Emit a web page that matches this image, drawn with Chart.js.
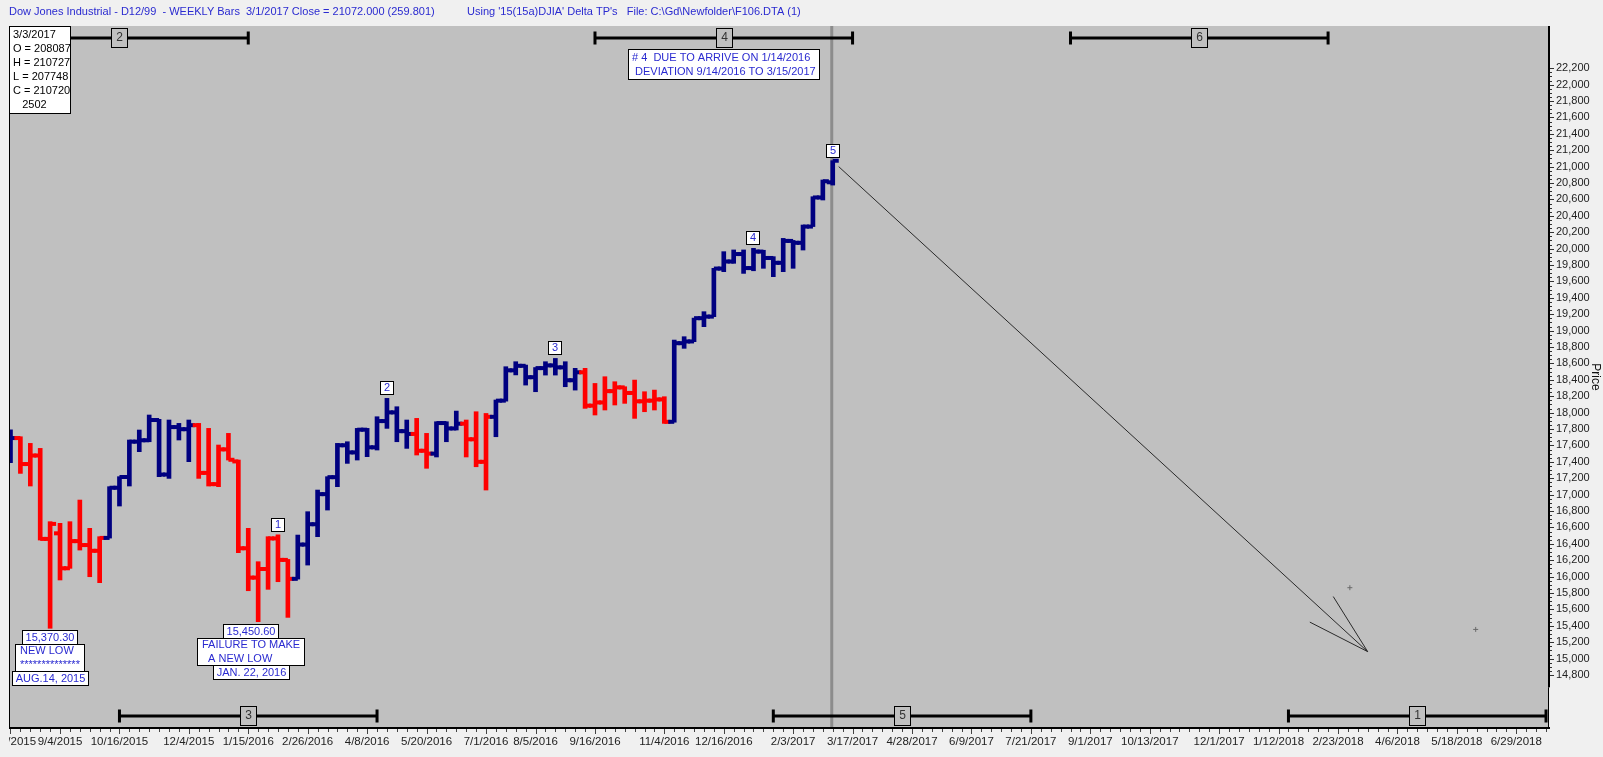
<!DOCTYPE html>
<html>
<head>
<meta charset="utf-8">
<script src="https://cdn.jsdelivr.net/npm/chart.js@4/dist/chart.umd.min.js"></script>
<style>
html,body{margin:0;padding:0;background:#f0f0f0;overflow:hidden;}
canvas{display:block;}
</style>
</head>
<body>
<canvas id="c" width="1603" height="757"></canvas>
<script>
// ---------- DATA (weekly bars, index 0 = week ending 7/31/2015) ----------
const opens = [17570,17690,17373,17477,16460,16528,16102,16433,16385,16315,
  16472,17084,17215,17646,17663,17910,17245,17824,17798,17847,
  17265,17128,17552,17405,16346,15988,16093,16466,16204,15973,
  16391,16639,17006,17213,17602,17515,17792,17577,17897,18003,
  17774,17740,17535,17500,17873,17807,17865,17675,17400,17949,
  18146,18516,18571,18432,18543,18576,18552,18395,18492,18085,
  18124,18262,18308,18240,18138,18146,18161,17888,18847,18868,
  19152,19171,19757,19843,19934,19763,19964,19886,19827,20094,
  20071,20269,20624,20809];
const highs = [17790,17706,17625,17564,16670,16650,16670,16934,16589,16487,
  17097,17219,17666,17788,17971,17918,17910,17869,17910,17869,
  17808,17605,17747,17422,16589,16182,16487,16510,16210,16507,
  16792,17056,17219,17625,17645,17808,17808,17950,18174,18072,
  17910,17930,17747,17889,17889,18019,17910,18011,17990,18154,
  18560,18621,18580,18550,18621,18661,18621,18540,18540,18356,
  18438,18377,18316,18397,18255,18275,18194,18885,18926,19153,
  19231,19760,19963,19984,19984,20004,19980,19902,20125,20100,
  20288,20633,20837,21073];
const lows = [17390,17259,17105,16446,15370,15959,16101,16324,15999,15926,
  16470,16861,17105,17524,17645,17219,17198,17666,17402,17198,
  17105,17097,17422,16292,15828,15451,15845,15938,15503,15970,
  16141,16487,16812,17097,17381,17422,17463,17544,17808,17645,
  17564,17483,17321,17459,17645,17788,17459,17340,17056,17706,
  18140,18460,18336,18255,18458,18458,18316,18275,18052,17971,
  18032,18093,18113,17930,18011,18032,17869,17883,18784,18865,
  19048,19170,19719,19821,19698,19730,19760,19658,19719,19760,
  19983,20269,20593,20775];
const closes = [17690,17373,17477,16460,16643,16102,16433,16385,16315,16472,
  17084,17215,17646,17663,17910,17245,17824,17798,17847,17265,
  17128,17552,17425,16346,15988,16093,16466,16204,15973,16391,
  16639,17006,17213,17602,17515,17792,17577,17897,18003,17774,
  17740,17535,17500,17873,17807,17865,17675,17400,17949,18146,
  18516,18571,18432,18543,18576,18552,18395,18492,18085,18124,
  18262,18308,18240,18138,18146,18161,17888,18847,18868,19152,
  19171,19757,19843,19934,19763,19964,19886,19827,20094,20071,
  20269,20624,20822,21072];
// trend colouring: D = down (red), U = up (navy)
const trend = ['U','D','D','D','D','D','D','D','D','D',
  'U','U','U','U','U','U','U','U','U','D',
  'D','D','D','D','D','D','D','D','D','U',
  'U','U','U','U','U','U','U','U','U','U',
  'U','D','D','U','U','U','D','D','D','U',
  'U','U','U','U','U','U','U','U','D','D',
  'D','D','D','D','D','D','D','U','U','U',
  'U','U','U','U','U','U','U','U','U','U',
  'U','U','U','U'];

// x-axis tick positions (week index) and labels
const xTickIdx    = [0,5,11,18,24,30,36,42,48,53,59,66,72,79,85,91,97,103,109,115,122,128,134,140,146,152];
const xTickLabels = ['7/31/2015','9/4/2015','10/16/2015','12/4/2015','1/15/2016','2/26/2016','4/8/2016','5/20/2016',
  '7/1/2016','8/5/2016','9/16/2016','11/4/2016','12/16/2016','2/3/2017','3/17/2017','4/28/2017','6/9/2017',
  '7/21/2017','9/1/2017','10/13/2017','12/1/2017','1/12/2018','2/23/2018','4/6/2018','5/18/2018','6/29/2018'];
// y-axis tick values
const yTickValues = [14800,15000,15200,15400,15600,15800,16000,16200,16400,16600,16800,17000,17200,17400,
  17600,17800,18000,18200,18400,18600,18800,19000,19200,19400,19600,19800,20000,20200,20400,20600,
  20800,21000,21200,21400,21600,21800,22000,22200];

// wave count labels on bars (bar index)
const waveNames = ['1','2','3','4','5'];
const waveBars  = [27,38,55,75,83];
// time-cycle brackets (week index from / to)
const topBracketNames = ['2','4','6'];
const topBracketFrom  = [-2,59,107];
const topBracketTo    = [24,85,133];
const botBracketNames = ['3','5','1'];
const botBracketFrom  = [11,77,129];
const botBracketTo    = [37,103,155];
// projection arrow (week index, price)
const projX = [83.6,137];
const projY = [21000,15085];
// small cross marks
const markX = [135.2,147.9];
const markY = [15865,15356];
// current bar marker
const currentBar = 83;
// low annotations
const lowNoteBars   = [4,24.3];
const lowNotePrices = [15370,15451];
const lowNoteTexts  = [
  [['15,370.30'],['NEW LOW','**************'],['AUG.14, 2015']],
  [['15,450.60'],['FAILURE TO MAKE','  A NEW LOW'],['JAN. 22, 2016']]
];
const noteFourText = ['# 4  DUE TO ARRIVE ON 1/14/2016',' DEVIATION 9/14/2016 TO 3/15/2017'];
const infoLines = ['3/3/2017','O = 208087','H = 210727','L = 207748','C = 210720','   2502'];
const headerLeft  = "Dow Jones Industrial - D12/99  - WEEKLY Bars  3/1/2017 Close = 21072.000 (259.801)";
const headerRight = "Using '15(15a)DJIA' Delta TP's   File: C:\\Gd\\Newfolder\\F106.DTA (1)";

// ---------- STYLE ----------
const FONT = '"Liberation Sans", Arial, sans-serif';
const RED = '#ff0000', NAVY = '#000080', BLUE_TXT = '#2a2ad0', PLOT_BG = '#c0c0c0';
const BAR_W = 4;

const hiLo = highs.map((h, i) => ({x: i, y: [lows[i], h]}));
const barColors = trend.map(t => t === 'D' ? RED : NAVY);
const projection = projX.map((x, i) => ({x, y: projY[i]}));
const marks = markX.map((x, i) => ({x, y: markY[i]}));

function boxText(ctx, x, y, w, h, lines, opts) {
  ctx.fillStyle = opts.fill; ctx.fillRect(x, y, w, h);
  ctx.strokeStyle = '#000'; ctx.lineWidth = 1;
  ctx.strokeRect(Math.round(x) + 0.5, Math.round(y) + 0.5, Math.round(w) - 1, Math.round(h) - 1);
  ctx.fillStyle = opts.color; ctx.font = opts.font; ctx.textBaseline = 'middle';
  ctx.textAlign = opts.align || 'center';
  lines.forEach((t, k) => {
    const ty = y + opts.pad + opts.lh * (k + 0.5);
    const tx = opts.align === 'left' ? x + opts.padX : x + w / 2;
    ctx.fillText(t, tx, ty);
  });
}

const drawPlugin = {
  id: 'drawPlugin',
  beforeDraw(chart) {
    const {ctx, chartArea: a} = chart;
    ctx.save();
    ctx.fillStyle = '#f0f0f0'; ctx.fillRect(0, 0, chart.width, chart.height);
    ctx.fillStyle = PLOT_BG; ctx.fillRect(a.left, a.top, a.right - a.left, a.bottom - a.top);
    ctx.font = '11px ' + FONT; ctx.fillStyle = BLUE_TXT; ctx.textBaseline = 'middle'; ctx.textAlign = 'left';
    ctx.fillText(headerLeft, 9, 12);
    ctx.fillText(headerRight, 467, 12);
    ctx.restore();
  },
  beforeDatasetsDraw(chart) {
    const {ctx, chartArea: a, scales: {x}} = chart;
    ctx.save();
    const px = x.getPixelForValue(currentBar) - 1;
    ctx.strokeStyle = '#8c8c8c'; ctx.lineWidth = 3;
    ctx.beginPath(); ctx.moveTo(px, a.top); ctx.lineTo(px, a.bottom); ctx.stroke();
    ctx.restore();
  },
  afterDatasetsDraw(chart) {
    const {ctx, chartArea: a, scales: {x, y}} = chart;
    ctx.save();
    ctx.beginPath(); ctx.rect(a.left, a.top, a.right - a.left, a.bottom - a.top); ctx.clip();
    // open / close ticks
    opens.forEach((o, i) => {
      const px = x.getPixelForValue(i);
      ctx.fillStyle = barColors[i];
      const yo = y.getPixelForValue(o), yc = y.getPixelForValue(closes[i]);
      ctx.fillRect(px - 6, yo - BAR_W / 2, 6, BAR_W);
      ctx.fillRect(px, yc - BAR_W / 2, 6, BAR_W);
    });
    // arrow head
    const x1 = x.getPixelForValue(projX[0]), y1 = y.getPixelForValue(projY[0]);
    const x2 = x.getPixelForValue(projX[1]), y2 = y.getPixelForValue(projY[1]);
    const ang = Math.atan2(y1 - y2, x1 - x2);
    ctx.strokeStyle = '#2a2a2a'; ctx.lineWidth = 1;
    [-0.27, 0.27].forEach(d => {
      ctx.beginPath(); ctx.moveTo(x2, y2);
      ctx.lineTo(x2 + 65 * Math.cos(ang + d), y2 + 65 * Math.sin(ang + d)); ctx.stroke();
    });
    // wave labels
    waveBars.forEach((b, k) => {
      const px = x.getPixelForValue(b), py = y.getPixelForValue(highs[b]);
      boxText(ctx, Math.round(px - 7), Math.round(py - 17), 14, 14, [waveNames[k]],
        {fill: '#fff', color: BLUE_TXT, font: '11px ' + FONT, pad: 0, lh: 14});
    });
    // brackets
    const drawBracket = (from, to, name, yy) => {
      const p1 = x.getPixelForValue(from), p2 = x.getPixelForValue(to), pm = (p1 + p2) / 2;
      ctx.fillStyle = '#000';
      ctx.fillRect(p1, yy - 1.5, p2 - p1, 3);
      ctx.fillRect(p1 - 1.5, yy - 6.5, 3, 13);
      ctx.fillRect(p2 - 1.5, yy - 6.5, 3, 13);
      boxText(ctx, Math.round(pm - 8), Math.round(yy - 10), 17, 20, [name],
        {fill: PLOT_BG, color: '#333', font: '12px ' + FONT, pad: 0, lh: 20});
    };
    topBracketNames.forEach((n, k) => drawBracket(topBracketFrom[k], topBracketTo[k], n, 38));
    botBracketNames.forEach((n, k) => drawBracket(botBracketFrom[k], botBracketTo[k], n, a.bottom - 12));
    // low notes
    ctx.font = '11px ' + FONT;
    lowNoteBars.forEach((b, k) => {
      const px = x.getPixelForValue(b);
      let top = Math.round(y.getPixelForValue(lowNotePrices[k]) + 2);
      lowNoteTexts[k].forEach(lines => {
        ctx.font = '11px ' + FONT;
        const w = Math.max(...lines.map(t => ctx.measureText(t).width)) + (lines.length > 1 ? 10 : 7);
        const h = lines.length > 1 ? 28 : 15;
        boxText(ctx, Math.round(px - w / 2), top, Math.round(w), h, lines,
          {fill: '#fff', color: BLUE_TXT, font: '11px ' + FONT, pad: 0, lh: h / lines.length,
           align: lines.length > 1 ? 'left' : 'center', padX: 5});
        top += h - 1;
      });
    });
    // # 4 note
    {
      const p1 = x.getPixelForValue(topBracketFrom[1]), p2 = x.getPixelForValue(topBracketTo[1]);
      const pm = (p1 + p2) / 2;
      ctx.font = '11px ' + FONT;
      const w = Math.max(...noteFourText.map(t => ctx.measureText(t).width)) + 8;
      boxText(ctx, Math.round(pm - w / 2), 49, Math.round(w), 31, noteFourText,
        {fill: '#fff', color: BLUE_TXT, font: '11px ' + FONT, pad: 2, lh: 14, align: 'left', padX: 4});
    }
    // info box
    boxText(ctx, a.left, a.top, 62, 88, infoLines,
      {fill: '#fff', color: '#000', font: '11px ' + FONT, pad: 2, lh: 14, align: 'left', padX: 4});
    ctx.restore();

    // frame & axes
    ctx.save();
    ctx.fillStyle = '#000';
    ctx.fillRect(a.left, a.top, 1, a.bottom - a.top);
    ctx.fillRect(a.left, a.bottom - 1, a.right - a.left + 1, 2);
    const yBreak = y.getPixelForValue(14650);
    ctx.fillRect(a.right - 1, a.top, 2, yBreak - a.top);
    ctx.fillRect(a.right - 1, yBreak, 1, a.bottom - yBreak);
    // y minor / major ticks
    for (let v = yTickValues[0]; v <= yTickValues[yTickValues.length - 1]; v += 50) {
      const py = Math.round(y.getPixelForValue(v)) + 0.5;
      const major = yTickValues.includes(v);
      ctx.fillStyle = '#333';
      ctx.fillRect(a.right + 1, py - 0.5, major ? 4 : 2, 1);
    }
    // x ticks
    ctx.fillStyle = '#444';
    for (let i = 0; i <= 155; i++) {
      const px = Math.round(x.getPixelForValue(i));
      const major = xTickIdx.includes(i);
      ctx.fillRect(px, a.bottom + 1, 1, major ? 5 : 3);
    }
    // x labels
    ctx.beginPath(); ctx.rect(a.left, a.bottom, a.right - a.left + 30, 40); ctx.clip();
    ctx.font = '11.5px ' + FONT; ctx.fillStyle = '#222'; ctx.textAlign = 'center'; ctx.textBaseline = 'middle';
    xTickIdx.forEach((t, k) => ctx.fillText(xTickLabels[k], x.getPixelForValue(t), a.bottom + 14));
    ctx.restore();
  }
};

new Chart(document.getElementById('c'), {
  type: 'bar',
  data: {
    datasets: [
      {type: 'bar', label: 'High-Low', data: hiLo, backgroundColor: barColors, borderWidth: 0,
       barThickness: BAR_W, order: 3},
      {type: 'line', label: 'Projection', data: projection, borderColor: '#2a2a2a', borderWidth: 1,
       pointRadius: 0, fill: false, order: 1},
      {type: 'scatter', label: 'Marks', data: marks, pointStyle: 'cross', pointRadius: 2.5,
       borderColor: '#6a6a6a', backgroundColor: '#6a6a6a', borderWidth: 1, order: 2}
    ]
  },
  options: {
    responsive: false, animation: false, devicePixelRatio: 1,
    layout: {padding: {left: 9, top: 26, right: 0, bottom: 0}},
    plugins: {legend: {display: false}, tooltip: {enabled: false}, title: {display: false}},
    scales: {
      x: {type: 'linear', position: 'bottom', min: -0.15, max: 155.3, offset: false,
          grid: {display: false, drawTicks: false}, border: {display: false}, ticks: {display: false},
          afterFit(s) { s.height = 29; s.paddingLeft = 0; s.paddingRight = 0; }},
      y: {type: 'linear', position: 'right', min: 14154, max: 22715,
          grid: {display: false, drawTicks: false}, border: {display: false},
          ticks: {padding: 7, color: '#222', font: {family: FONT, size: 11},
                  callback: v => Number(v).toLocaleString('en-US')},
          afterBuildTicks(s) { s.ticks = yTickValues.map(v => ({value: v})); },
          afterFit(s) { s.width = 54; s.paddingTop = 0; s.paddingBottom = 0; },
          title: {display: true, text: 'Price', color: '#111', font: {family: FONT, size: 12},
                  padding: {top: 0, bottom: 0}}}
    }
  },
  plugins: [drawPlugin]
});
</script>
</body>
</html>
